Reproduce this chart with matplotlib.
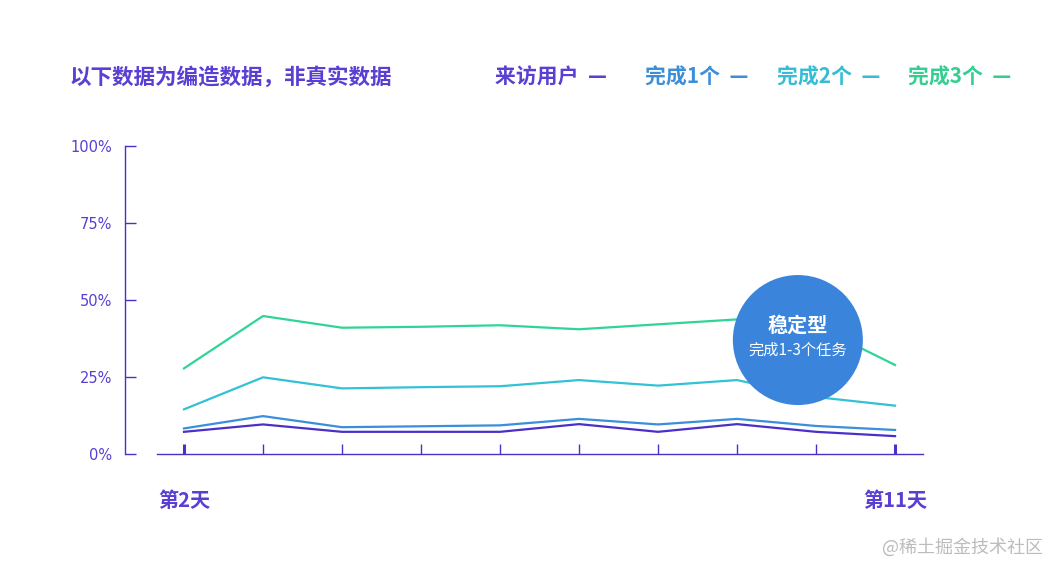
import numpy as np
import matplotlib
matplotlib.use("Agg")
import matplotlib.pyplot as plt

plt.rcParams['font.family'] = ['Noto Sans CJK SC', 'DejaVu Sans']

# 数据（从图上读出来的估计值）
days = [2, 3, 4, 5, 6, 7, 8, 9, 10, 11]
visitors = [7.2, 9.6, 7.2, 7.2, 7.2, 9.7, 7.2, 9.7, 7.2, 5.8]
done1 = [8.3, 12.3, 8.7, 9.0, 9.3, 11.4, 9.6, 11.4, 9.1, 7.8]
done2 = [14.5, 24.9, 21.3, 21.7, 22.0, 24.0, 22.2, 24.0, 18.5, 15.7]
done3 = [27.8, 44.8, 41.0, 41.3, 41.8, 40.5, 42.1, 43.7, 41.6, 28.9]
yticks = [0, 25, 50, 75, 100]
series_names = ['来访用户', '完成1个', '完成2个', '完成3个']

purple = '#4a2fc8'
purple_txt = '#5a3fd2'
blue = '#3a8edb'
cyan = '#33c1d6'
green = '#2fd596'
colors = [purple, blue, cyan, green]
txt_colors = [purple_txt, '#3b8fd9', '#35bdd6', '#33cf90']

fig = plt.figure(figsize=(10.61, 5.75), dpi=100)
ax = fig.add_axes([125 / 1061, 1 - 454 / 575, 798 / 1061, 308 / 575])

x = np.arange(len(days))
for vals, c in zip([visitors, done1, done2, done3], colors):
    ax.plot(x, vals, color=c, lw=1.6, zorder=3)

ax.set_xlim(-0.747, 9.354)
ax.set_ylim(0, 100)

for s in ['top', 'right']:
    ax.spines[s].set_visible(False)
ax.spines['left'].set_color(purple)
ax.spines['bottom'].set_color(purple)
ax.spines['left'].set_linewidth(1.0)
ax.spines['bottom'].set_linewidth(1.0)
ax.spines['bottom'].set_bounds(-0.342, 9.354)

ax.set_yticks(yticks)
ax.set_yticklabels([f'{v}%' for v in yticks], family='DejaVu Sans')
ax.tick_params(axis='y', direction='in', length=8, width=1, color=purple,
               labelcolor=purple_txt, labelsize=10.5, pad=9)

ax.set_xticks(x)
xlabels = [''] * len(days)
xlabels[0] = f'第{days[0]}天'
xlabels[-1] = f'第{days[-1]}天'
ax.set_xticklabels(xlabels, fontweight='bold', fontsize=14.5)
ax.tick_params(axis='x', direction='in', length=7, width=1, color=purple,
               labelcolor=purple_txt, pad=26)
xt = ax.xaxis.get_major_ticks()
for i in (0, len(xt) - 1):
    xt[i].tick1line.set_markeredgewidth(2.2)

# 气泡
ax.scatter([7.77], [37], s=(130 * 0.72) ** 2, color='#3a84db', zorder=5,
           edgecolors='none', clip_on=False)
ax.text(7.77, 41.8, '稳定型', color='white', fontsize=14.5, fontweight='bold',
        ha='center', va='center', zorder=6)
ax.text(7.77, 33.8, '完成1-3个任务', color='white', fontsize=11,
        ha='center', va='center', zorder=6)

# 标题 & 图例
fig.text(70 / 1061, 1 - 77 / 575, '以下数据为编造数据，非真实数据', color=purple_txt,
         fontsize=15.5, fontweight='bold', va='center', ha='left')
leg_x = [495, 645, 777, 908]
for name, lx, tc in zip(series_names, leg_x, txt_colors):
    fig.text(lx / 1061, 1 - 77 / 575, name + '  —', color=tc,
             fontsize=15, fontweight='bold', va='center', ha='left')

fig.text(1043 / 1061, 1 - 547 / 575, '@稀土掘金技术社区', color='#bcbcbc',
         fontsize=13, va='center', ha='right')

fig.savefig('out.png', dpi=100)
